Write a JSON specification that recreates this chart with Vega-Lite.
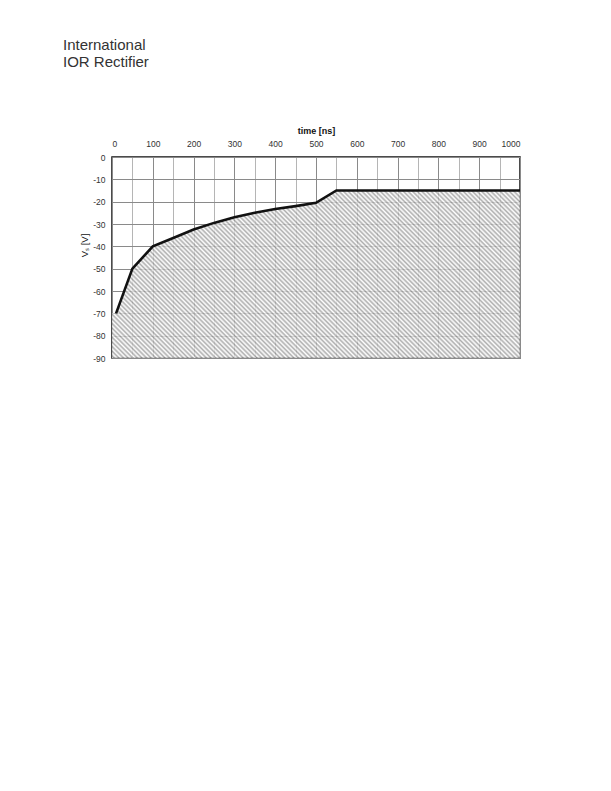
{
  "$schema": "https://vega.github.io/schema/vega-lite/v6.json",
  "width": 408,
  "height": 201,
  "autosize": {"type": "none"},
  "padding": {"left": 112, "top": 157, "right": 91, "bottom": 433},
  "background": "white",
  "title": {
    "text": "International",
    "subtitle": "IOR Rectifier",
    "anchor": "start",
    "frame": "group",
    "dx": -49,
    "offset": 56,
    "font": "Liberation Sans",
    "fontSize": 15,
    "fontWeight": "normal",
    "color": "#333",
    "subtitleFont": "Liberation Sans",
    "subtitleFontSize": 15,
    "subtitleColor": "#333",
    "subtitlePadding": 2
  },
  "config": {
    "view": {"stroke": "#111", "strokeWidth": 1.5},
    "axis": {
      "labelFont": "Liberation Sans",
      "labelFontSize": 8.5,
      "labelColor": "#333",
      "titleFont": "Liberation Sans",
      "titleFontSize": 9,
      "titleColor": "#111",
      "ticks": false,
      "domain": false
    }
  },
  "encoding": {
    "x": {
      "field": "t",
      "type": "quantitative",
      "scale": {"domain": [0, 1000], "nice": false, "zero": false},
      "axis": {
        "orient": "top",
        "values": [0, 50, 100, 150, 200, 250, 300, 350, 400, 450, 500, 550, 600, 650, 700, 750, 800, 850, 900, 950, 1000],
        "labelExpr": "datum.value % 100 === 0 ? '' + datum.value : ''",
        "title": "time [ns]",
        "titleFontWeight": "bold",
        "labelPadding": 9,
        "titlePadding": 4,
        "gridColor": {"condition": {"test": "datum.value % 100 === 0", "value": "#8a8a8a"}, "value": "#b5b5b5"}
      }
    },
    "y": {
      "field": "v",
      "type": "quantitative",
      "scale": {"domain": [-90, 0], "nice": false, "zero": false},
      "axis": {
        "values": [0, -10, -20, -30, -40, -50, -60, -70, -80, -90],
        "labelExpr": "'' + datum.value",
        "title": "Vₛ [V]",
        "titleFontWeight": "normal",
        "titleFontSize": 9.5,
        "titleX": -28,
        "titleY": 88,
        "titleAngle": -90,
        "titleAlign": "center",
        "titleBaseline": "middle",
        "labelPadding": 7,
        "gridColor": "#8a8a8a"
      }
    }
  },
  "layer": [
    {
      "data": {"values": [
        {"t": 0, "v": -70}, {"t": 10, "v": -70}, {"t": 50, "v": -50}, {"t": 100, "v": -40},
        {"t": 150, "v": -36.3}, {"t": 200, "v": -32.5}, {"t": 250, "v": -29.5}, {"t": 300, "v": -27},
        {"t": 350, "v": -25}, {"t": 400, "v": -23.3}, {"t": 450, "v": -22}, {"t": 500, "v": -20.5},
        {"t": 550, "v": -15}, {"t": 1000, "v": -15}
      ]},
      "mark": {
        "type": "area",
        "fillOpacity": 0.8,
        "fill": {
          "gradient": "linear",
          "x1": 0, "y1": 1, "x2": 1.2071, "y2": 0.5045,
          "stops": [
            {"offset":0,"color":"#ffffff"},{"offset":0.004,"color":"#9a9a9a"},{"offset":0.008,"color":"#ffffff"},{"offset":0.012,"color":"#9a9a9a"},{"offset":0.016,"color":"#ffffff"},{"offset":0.02,"color":"#9a9a9a"},{"offset":0.024,"color":"#ffffff"},{"offset":0.028,"color":"#9a9a9a"},{"offset":0.032,"color":"#ffffff"},{"offset":0.036,"color":"#9a9a9a"},
            {"offset":0.04,"color":"#ffffff"},{"offset":0.044,"color":"#9a9a9a"},{"offset":0.048,"color":"#ffffff"},{"offset":0.052,"color":"#9a9a9a"},{"offset":0.056,"color":"#ffffff"},{"offset":0.06,"color":"#9a9a9a"},{"offset":0.064,"color":"#ffffff"},{"offset":0.068,"color":"#9a9a9a"},{"offset":0.072,"color":"#ffffff"},{"offset":0.076,"color":"#9a9a9a"},
            {"offset":0.08,"color":"#ffffff"},{"offset":0.084,"color":"#9a9a9a"},{"offset":0.088,"color":"#ffffff"},{"offset":0.092,"color":"#9a9a9a"},{"offset":0.096,"color":"#ffffff"},{"offset":0.1,"color":"#9a9a9a"},{"offset":0.104,"color":"#ffffff"},{"offset":0.108,"color":"#9a9a9a"},{"offset":0.112,"color":"#ffffff"},{"offset":0.116,"color":"#9a9a9a"},
            {"offset":0.12,"color":"#ffffff"},{"offset":0.124,"color":"#9a9a9a"},{"offset":0.128,"color":"#ffffff"},{"offset":0.132,"color":"#9a9a9a"},{"offset":0.136,"color":"#ffffff"},{"offset":0.14,"color":"#9a9a9a"},{"offset":0.144,"color":"#ffffff"},{"offset":0.148,"color":"#9a9a9a"},{"offset":0.152,"color":"#ffffff"},{"offset":0.156,"color":"#9a9a9a"},
            {"offset":0.16,"color":"#ffffff"},{"offset":0.164,"color":"#9a9a9a"},{"offset":0.168,"color":"#ffffff"},{"offset":0.172,"color":"#9a9a9a"},{"offset":0.176,"color":"#ffffff"},{"offset":0.18,"color":"#9a9a9a"},{"offset":0.184,"color":"#ffffff"},{"offset":0.188,"color":"#9a9a9a"},{"offset":0.192,"color":"#ffffff"},{"offset":0.196,"color":"#9a9a9a"},
            {"offset":0.2,"color":"#ffffff"},{"offset":0.204,"color":"#9a9a9a"},{"offset":0.208,"color":"#ffffff"},{"offset":0.212,"color":"#9a9a9a"},{"offset":0.216,"color":"#ffffff"},{"offset":0.22,"color":"#9a9a9a"},{"offset":0.224,"color":"#ffffff"},{"offset":0.228,"color":"#9a9a9a"},{"offset":0.232,"color":"#ffffff"},{"offset":0.236,"color":"#9a9a9a"},
            {"offset":0.24,"color":"#ffffff"},{"offset":0.244,"color":"#9a9a9a"},{"offset":0.248,"color":"#ffffff"},{"offset":0.252,"color":"#9a9a9a"},{"offset":0.256,"color":"#ffffff"},{"offset":0.26,"color":"#9a9a9a"},{"offset":0.264,"color":"#ffffff"},{"offset":0.268,"color":"#9a9a9a"},{"offset":0.272,"color":"#ffffff"},{"offset":0.276,"color":"#9a9a9a"},
            {"offset":0.28,"color":"#ffffff"},{"offset":0.284,"color":"#9a9a9a"},{"offset":0.288,"color":"#ffffff"},{"offset":0.292,"color":"#9a9a9a"},{"offset":0.296,"color":"#ffffff"},{"offset":0.3,"color":"#9a9a9a"},{"offset":0.304,"color":"#ffffff"},{"offset":0.308,"color":"#9a9a9a"},{"offset":0.312,"color":"#ffffff"},{"offset":0.316,"color":"#9a9a9a"},
            {"offset":0.32,"color":"#ffffff"},{"offset":0.324,"color":"#9a9a9a"},{"offset":0.328,"color":"#ffffff"},{"offset":0.332,"color":"#9a9a9a"},{"offset":0.336,"color":"#ffffff"},{"offset":0.34,"color":"#9a9a9a"},{"offset":0.344,"color":"#ffffff"},{"offset":0.348,"color":"#9a9a9a"},{"offset":0.352,"color":"#ffffff"},{"offset":0.356,"color":"#9a9a9a"},
            {"offset":0.36,"color":"#ffffff"},{"offset":0.364,"color":"#9a9a9a"},{"offset":0.368,"color":"#ffffff"},{"offset":0.372,"color":"#9a9a9a"},{"offset":0.376,"color":"#ffffff"},{"offset":0.38,"color":"#9a9a9a"},{"offset":0.384,"color":"#ffffff"},{"offset":0.388,"color":"#9a9a9a"},{"offset":0.392,"color":"#ffffff"},{"offset":0.396,"color":"#9a9a9a"},
            {"offset":0.4,"color":"#ffffff"},{"offset":0.404,"color":"#9a9a9a"},{"offset":0.408,"color":"#ffffff"},{"offset":0.412,"color":"#9a9a9a"},{"offset":0.416,"color":"#ffffff"},{"offset":0.42,"color":"#9a9a9a"},{"offset":0.424,"color":"#ffffff"},{"offset":0.428,"color":"#9a9a9a"},{"offset":0.432,"color":"#ffffff"},{"offset":0.436,"color":"#9a9a9a"},
            {"offset":0.44,"color":"#ffffff"},{"offset":0.444,"color":"#9a9a9a"},{"offset":0.448,"color":"#ffffff"},{"offset":0.452,"color":"#9a9a9a"},{"offset":0.456,"color":"#ffffff"},{"offset":0.46,"color":"#9a9a9a"},{"offset":0.464,"color":"#ffffff"},{"offset":0.468,"color":"#9a9a9a"},{"offset":0.472,"color":"#ffffff"},{"offset":0.476,"color":"#9a9a9a"},
            {"offset":0.48,"color":"#ffffff"},{"offset":0.484,"color":"#9a9a9a"},{"offset":0.488,"color":"#ffffff"},{"offset":0.492,"color":"#9a9a9a"},{"offset":0.496,"color":"#ffffff"},{"offset":0.5,"color":"#9a9a9a"},{"offset":0.504,"color":"#ffffff"},{"offset":0.508,"color":"#9a9a9a"},{"offset":0.512,"color":"#ffffff"},{"offset":0.516,"color":"#9a9a9a"},
            {"offset":0.52,"color":"#ffffff"},{"offset":0.524,"color":"#9a9a9a"},{"offset":0.528,"color":"#ffffff"},{"offset":0.532,"color":"#9a9a9a"},{"offset":0.536,"color":"#ffffff"},{"offset":0.54,"color":"#9a9a9a"},{"offset":0.544,"color":"#ffffff"},{"offset":0.548,"color":"#9a9a9a"},{"offset":0.552,"color":"#ffffff"},{"offset":0.556,"color":"#9a9a9a"},
            {"offset":0.56,"color":"#ffffff"},{"offset":0.564,"color":"#9a9a9a"},{"offset":0.568,"color":"#ffffff"},{"offset":0.572,"color":"#9a9a9a"},{"offset":0.576,"color":"#ffffff"},{"offset":0.58,"color":"#9a9a9a"},{"offset":0.584,"color":"#ffffff"},{"offset":0.588,"color":"#9a9a9a"},{"offset":0.592,"color":"#ffffff"},{"offset":0.596,"color":"#9a9a9a"},
            {"offset":0.6,"color":"#ffffff"},{"offset":0.604,"color":"#9a9a9a"},{"offset":0.608,"color":"#ffffff"},{"offset":0.612,"color":"#9a9a9a"},{"offset":0.616,"color":"#ffffff"},{"offset":0.62,"color":"#9a9a9a"},{"offset":0.624,"color":"#ffffff"},{"offset":0.628,"color":"#9a9a9a"},{"offset":0.632,"color":"#ffffff"},{"offset":0.636,"color":"#9a9a9a"},
            {"offset":0.64,"color":"#ffffff"},{"offset":0.644,"color":"#9a9a9a"},{"offset":0.648,"color":"#ffffff"},{"offset":0.652,"color":"#9a9a9a"},{"offset":0.656,"color":"#ffffff"},{"offset":0.66,"color":"#9a9a9a"},{"offset":0.664,"color":"#ffffff"},{"offset":0.668,"color":"#9a9a9a"},{"offset":0.672,"color":"#ffffff"},{"offset":0.676,"color":"#9a9a9a"},
            {"offset":0.68,"color":"#ffffff"},{"offset":0.684,"color":"#9a9a9a"},{"offset":0.688,"color":"#ffffff"},{"offset":0.692,"color":"#9a9a9a"},{"offset":0.696,"color":"#ffffff"},{"offset":0.7,"color":"#9a9a9a"},{"offset":0.704,"color":"#ffffff"},{"offset":0.708,"color":"#9a9a9a"},{"offset":0.712,"color":"#ffffff"},{"offset":0.716,"color":"#9a9a9a"},
            {"offset":0.72,"color":"#ffffff"},{"offset":0.724,"color":"#9a9a9a"},{"offset":0.728,"color":"#ffffff"},{"offset":0.732,"color":"#9a9a9a"},{"offset":0.736,"color":"#ffffff"},{"offset":0.74,"color":"#9a9a9a"},{"offset":0.744,"color":"#ffffff"},{"offset":0.748,"color":"#9a9a9a"},{"offset":0.752,"color":"#ffffff"},{"offset":0.756,"color":"#9a9a9a"},
            {"offset":0.76,"color":"#ffffff"},{"offset":0.764,"color":"#9a9a9a"},{"offset":0.768,"color":"#ffffff"},{"offset":0.772,"color":"#9a9a9a"},{"offset":0.776,"color":"#ffffff"},{"offset":0.78,"color":"#9a9a9a"},{"offset":0.784,"color":"#ffffff"},{"offset":0.788,"color":"#9a9a9a"},{"offset":0.792,"color":"#ffffff"},{"offset":0.796,"color":"#9a9a9a"},
            {"offset":0.8,"color":"#ffffff"},{"offset":0.804,"color":"#9a9a9a"},{"offset":0.808,"color":"#ffffff"},{"offset":0.812,"color":"#9a9a9a"},{"offset":0.816,"color":"#ffffff"},{"offset":0.82,"color":"#9a9a9a"},{"offset":0.824,"color":"#ffffff"},{"offset":0.828,"color":"#9a9a9a"},{"offset":0.832,"color":"#ffffff"},{"offset":0.836,"color":"#9a9a9a"},
            {"offset":0.84,"color":"#ffffff"},{"offset":0.844,"color":"#9a9a9a"},{"offset":0.848,"color":"#ffffff"},{"offset":0.852,"color":"#9a9a9a"},{"offset":0.856,"color":"#ffffff"},{"offset":0.86,"color":"#9a9a9a"},{"offset":0.864,"color":"#ffffff"},{"offset":0.868,"color":"#9a9a9a"},{"offset":0.872,"color":"#ffffff"},{"offset":0.876,"color":"#9a9a9a"},
            {"offset":0.88,"color":"#ffffff"},{"offset":0.884,"color":"#9a9a9a"},{"offset":0.888,"color":"#ffffff"},{"offset":0.892,"color":"#9a9a9a"},{"offset":0.896,"color":"#ffffff"},{"offset":0.9,"color":"#9a9a9a"},{"offset":0.904,"color":"#ffffff"},{"offset":0.908,"color":"#9a9a9a"},{"offset":0.912,"color":"#ffffff"},{"offset":0.916,"color":"#9a9a9a"},
            {"offset":0.92,"color":"#ffffff"},{"offset":0.924,"color":"#9a9a9a"},{"offset":0.928,"color":"#ffffff"},{"offset":0.932,"color":"#9a9a9a"},{"offset":0.936,"color":"#ffffff"},{"offset":0.94,"color":"#9a9a9a"},{"offset":0.944,"color":"#ffffff"},{"offset":0.948,"color":"#9a9a9a"},{"offset":0.952,"color":"#ffffff"},{"offset":0.956,"color":"#9a9a9a"},
            {"offset":0.96,"color":"#ffffff"},{"offset":0.964,"color":"#9a9a9a"},{"offset":0.968,"color":"#ffffff"},{"offset":0.972,"color":"#9a9a9a"},{"offset":0.976,"color":"#ffffff"},{"offset":0.98,"color":"#9a9a9a"},{"offset":0.984,"color":"#ffffff"},{"offset":0.988,"color":"#9a9a9a"},{"offset":0.992,"color":"#ffffff"},{"offset":0.996,"color":"#9a9a9a"},
            {"offset":1,"color":"#ffffff"}
          ]
        }
      },
      "encoding": {
        "y2": {"datum": -90}
      }
    },
    {
      "data": {"values": [
        {"t": 10, "v": -70}, {"t": 50, "v": -50}, {"t": 100, "v": -40},
        {"t": 150, "v": -36.3}, {"t": 200, "v": -32.5}, {"t": 250, "v": -29.5}, {"t": 300, "v": -27},
        {"t": 350, "v": -25}, {"t": 400, "v": -23.3}, {"t": 450, "v": -22}, {"t": 500, "v": -20.5},
        {"t": 550, "v": -15}, {"t": 1000, "v": -15}
      ]},
      "mark": {"type": "line", "color": "#111", "strokeWidth": 2.6}
    }
  ]
}
